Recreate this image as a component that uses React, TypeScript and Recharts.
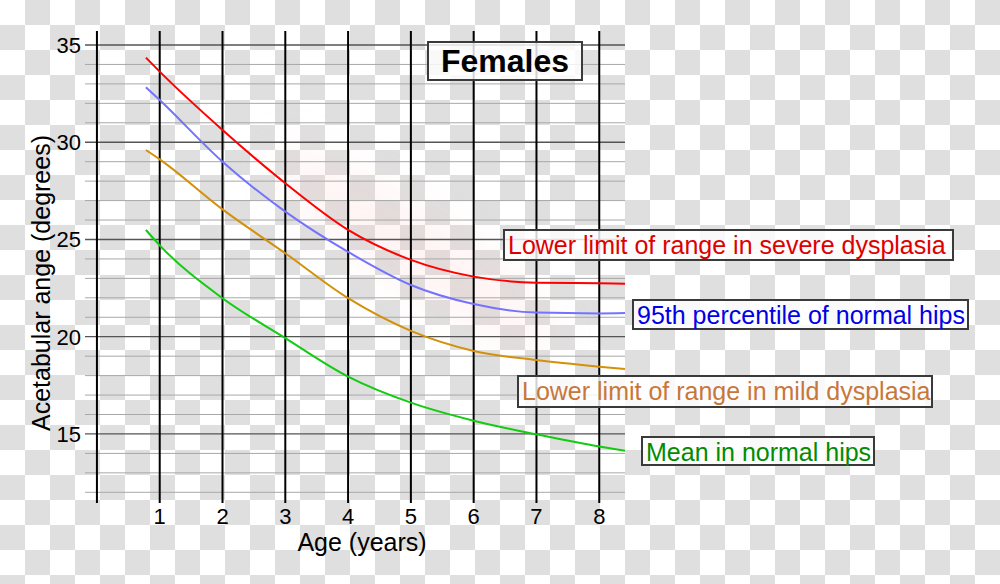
import React from "react";
import { LineChart, Line, XAxis, YAxis, ReferenceLine } from "recharts";

// Age (years) sample points
const ages = [0.78, 1, 2, 3, 4, 5, 6, 7, 8, 8.41];
// Acetabular angle (degrees)
const severeLower = [34.35, 33.63, 30.63, 27.89, 25.49, 23.95, 23.09, 22.78, 22.75, 22.73];
const normal95 = [32.83, 32.17, 29.0, 26.43, 24.36, 22.66, 21.68, 21.24, 21.2, 21.22];
const mildLower = [29.6, 29.12, 26.55, 24.29, 21.98, 20.3, 19.27, 18.8, 18.46, 18.34];
const normalMean = [25.49, 24.7, 21.98, 19.93, 17.95, 16.61, 15.68, 14.98, 14.35, 14.13];

const xTicks = [1, 2, 3, 4, 5, 6, 7, 8];
const yTicks = [15, 20, 25, 30, 35];
const verticalLines = [0, 1, 2, 3, 4, 5, 6, 7, 8];
const gridValues = [12, 13, 14, 15, 16, 17, 18, 19, 20, 21, 22, 23, 24, 25, 26, 27, 28, 29, 30, 31, 32, 33, 34, 35];

const title = "Females";
const seriesNames = [
  "Lower limit of range in severe dysplasia",
  "95th percentile of normal hips",
  "Lower limit of range in mild dysplasia",
  "Mean in normal hips",
];

const data = ages.map((a, i) => ({
  age: a,
  severe: severeLower[i],
  p95: normal95[i],
  mild: mildLower[i],
  mean: normalMean[i],
}));

const FONT = "'Liberation Sans', Arial, sans-serif";

const XTick = (props: any) => {
  const { x, y, payload } = props;
  return (
    <text x={x} y={y + 16} textAnchor="middle" fontSize={22} fontFamily={FONT} fill="#000">
      {payload.value}
    </text>
  );
};

const YTick = (props: any) => {
  const { x, y, payload } = props;
  return (
    <text x={x} y={y + 7.8} textAnchor="end" fontSize={22} fontFamily={FONT} fill="#000">
      {payload.value}
    </text>
  );
};

const boxBase: React.CSSProperties = {
  position: "absolute",
  border: "2px solid #3a3a3a",
  background: "rgba(255,255,255,0.82)",
  fontFamily: FONT,
  fontSize: 25,
  lineHeight: "28px",
  padding: "0 3px",
  whiteSpace: "nowrap",
  boxSizing: "border-box",
};

export default function App() {
  return (
    <div
      style={{
        position: "fixed",
        left: 0,
        top: 0,
        width: 1000,
        height: 584,
        overflow: "hidden",
        backgroundColor: "#fff",
        backgroundImage:
          "conic-gradient(#dfdfdf 0deg 90deg, #ffffff 90deg 180deg, #dfdfdf 180deg 270deg, #ffffff 270deg 360deg)",
        backgroundSize: "50px 50px",
        fontFamily: FONT,
      }}
    >
      <div
        style={{
          position: "absolute",
          left: 245,
          top: 215,
          width: 340,
          height: 70,
          transform: "rotate(33deg)",
          background: "rgba(255,195,195,0.2)",
          filter: "blur(22px)",
          borderRadius: "50%",
        }}
      />
      <div style={{ position: "absolute", left: 0, top: 0 }}>
        <LineChart
          width={1000}
          height={584}
          data={data}
          margin={{ top: 31, right: 375, bottom: 51, left: 0 }}
        >
          <XAxis
            dataKey="age"
            type="number"
            domain={[-0.19, 8.41]}
            allowDataOverflow
            ticks={xTicks}
            axisLine={false}
            tickLine={false}
            tickSize={0}
            tickMargin={5}
            height={30}
            tick={<XTick />}
            interval={0}
          />
          <YAxis
            type="number"
            domain={[11.45, 35.72]}
            allowDataOverflow
            ticks={yTicks}
            axisLine={false}
            tickLine={false}
            tickSize={0}
            tickMargin={4}
            width={85}
            tick={<YTick />}
            interval={0}
          />
          {gridValues.map((v) => (
            <ReferenceLine
              key={"h" + v}
              y={v}
              stroke={v % 5 === 0 ? "#555" : "#a8a8a8"}
              strokeWidth={v % 5 === 0 ? 1.3 : 1}
              ifOverflow="visible"
            />
          ))}
          {verticalLines.map((v) => (
            <ReferenceLine key={"v" + v} x={v} stroke="#000" strokeWidth={2} ifOverflow="visible" />
          ))}
          <Line type="monotone" dataKey="severe" stroke="#ff0000" strokeWidth={2} dot={false} isAnimationActive={false} />
          <Line type="monotone" dataKey="p95" stroke="#7373ff" strokeWidth={2} dot={false} isAnimationActive={false} />
          <Line type="monotone" dataKey="mild" stroke="#d4900a" strokeWidth={2} dot={false} isAnimationActive={false} />
          <Line type="monotone" dataKey="mean" stroke="#11cc11" strokeWidth={2} dot={false} isAnimationActive={false} />
        </LineChart>
      </div>

      <div
        style={{
          position: "absolute",
          left: 0,
          top: 533,
          width: 724,
          textAlign: "center",
          fontSize: 25,
          lineHeight: "18px",
          color: "#000",
        }}
      >
        Age (years)
      </div>
      <div
        style={{
          position: "absolute",
          left: 41,
          top: 283,
          transform: "translate(-50%, -50%) rotate(-90deg)",
          fontSize: 25,
          whiteSpace: "nowrap",
          color: "#000",
        }}
      >
        Acetabular ange (degrees)
      </div>

      <div
        style={{
          ...boxBase,
          left: 427,
          top: 41,
          width: 156,
          height: 40,
          fontSize: 32,
          lineHeight: "36px",
          fontWeight: "bold",
          textAlign: "center",
          color: "#000",
        }}
      >
        {title}
      </div>
      <div style={{ ...boxBase, left: 503, top: 229, width: 451, height: 32, color: "#dd0000" }}>
        {seriesNames[0]}
      </div>
      <div style={{ ...boxBase, left: 632, top: 299, width: 337, height: 31, color: "#0000e6" }}>
        {seriesNames[1]}
      </div>
      <div style={{ ...boxBase, left: 517, top: 375, width: 416, height: 33, color: "#c8773a" }}>
        {seriesNames[2]}
      </div>
      <div style={{ ...boxBase, left: 641, top: 436, width: 234, height: 30, color: "#008c00" }}>
        {seriesNames[3]}
      </div>
    </div>
  );
}
